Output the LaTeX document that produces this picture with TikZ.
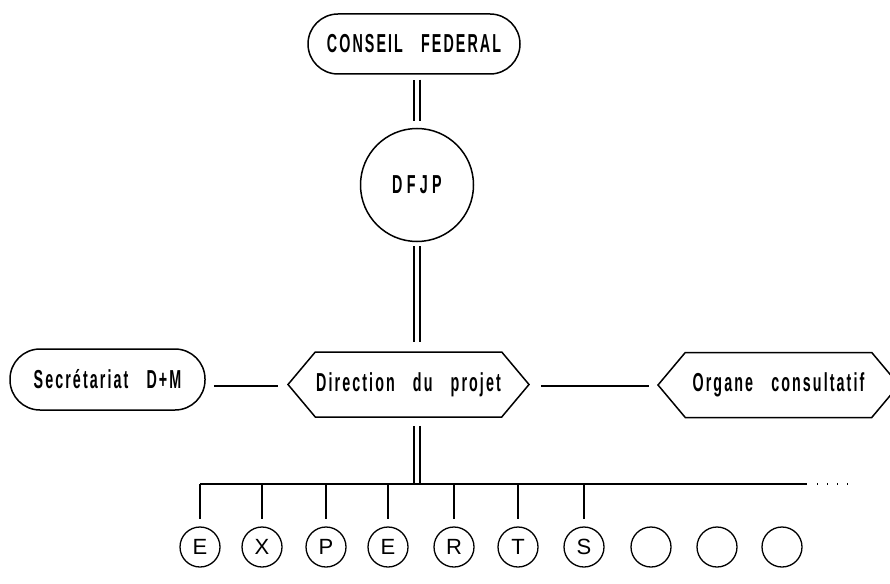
\documentclass[tikz,border=0pt]{standalone}
\usepackage{fontspec}
\setmainfont{Liberation Sans}
\newfontfamily\cond{Liberation Sans}[FakeStretch=0.55,LetterSpace=8,WordSpace=3]
\usetikzlibrary{shapes.symbols}
\begin{document}
\begin{tikzpicture}[x=1pt,y=-1pt,
  line width=1.5pt,
  pill/.style={draw,rounded corners=30pt,inner sep=0pt,font=\cond\bfseries\fontsize{26}{28}\selectfont},
  hexa/.style={draw,signal,signal to=west and east,signal pointer angle=100,
    minimum width=241pt,minimum height=65pt,inner sep=0pt,font=\cond\bfseries\fontsize{26}{28}\selectfont},
  expert/.style={draw,circle,minimum size=40pt,inner sep=0pt,line width=1.3pt,
    font=\fontsize{22}{24}\selectfont},
  dbl/.style={double,double distance=4.6pt,line width=1.3pt},
  conn/.style={line width=1.4pt}]
\useasboundingbox (0,0) rectangle (890,583);
\node[pill,minimum width=212pt,minimum height=60pt] (cf) at (414,44) {CONSEIL FEDERAL};
\node[draw,circle,minimum size=113pt,inner sep=0pt,font=\cond\bfseries\fontsize{26}{28}\selectfont] (dfjp) at (417,185) {D\,F\,J\,P};
\node[hexa] (dir) at (408.5,384.5) {Direction du projet};
\node[hexa] (org) at (778.5,385) {Organe consultatif};
\node[pill,minimum width=195pt,minimum height=61pt] (sec) at (107.5,379.5) {Secrétariat D+M};
\draw[dbl,shorten <=5pt,shorten >=7pt] (cf.south -| dfjp.center) -- (dfjp.north);
\draw[dbl,shorten <=4pt,shorten >=9pt] (dfjp.south) -- (dfjp.center |- dir.north);
\draw[conn,shorten <=8pt,shorten >=9pt] (sec.east |- 0,386) -- (dir.west |- 0,386);
\draw[conn,shorten <=11pt,shorten >=8pt] (dir.east |- 0,386) -- (org.west |- 0,386);
\foreach \n/\x/\t in {1/200/E,2/262/X,3/326/P,4/388/E,5/454/R,6/518/T,7/584/S,8/651/,9/717/,10/782/}
  \node[expert] (e\n) at (\x,547) {\t};
\coordinate (busL) at (200,484);
\coordinate (busR) at (807,484);
\coordinate (dotR) at (850,484);
\draw[dbl,shorten <=8pt] (dfjp.center |- dir.south) -- (dfjp.center |- busL);
\draw[conn] (busL) -- (busR);
\draw[line width=1.3pt,dash pattern=on 1.3pt off 8.7pt] ([xshift=10pt]busR) -- (dotR);
\foreach \n in {1,...,7}
  \draw[conn,shorten >=7pt] (e\n |- busL) -- (e\n.north);
\end{tikzpicture}
\end{document}
